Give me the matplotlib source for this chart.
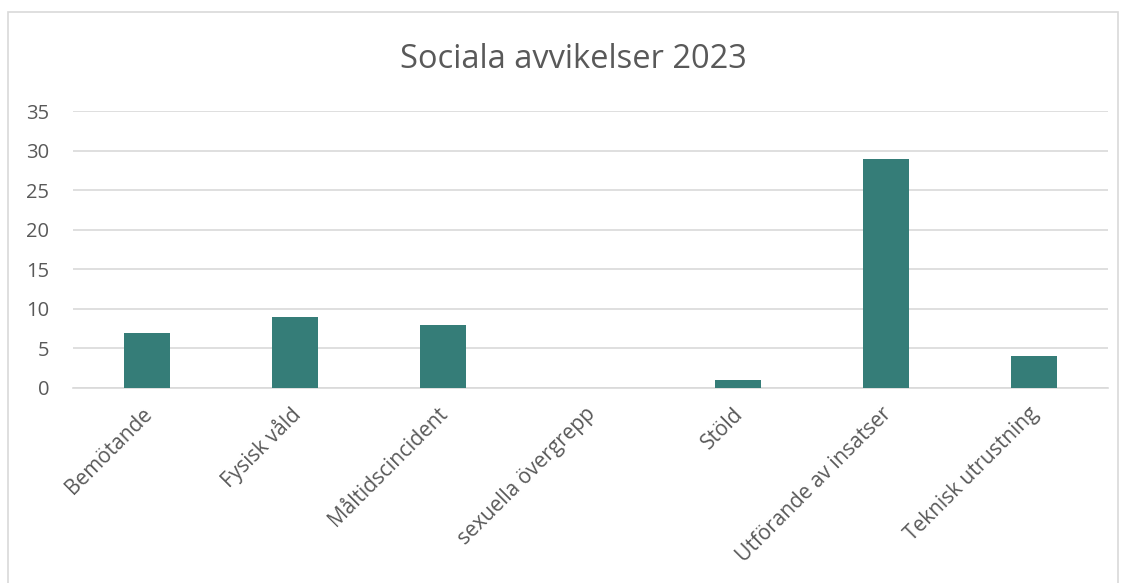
import matplotlib
matplotlib.use("Agg")
import matplotlib.pyplot as plt
import matplotlib.transforms as mtransforms
from matplotlib.patches import Rectangle

categories = ["Bemötande", "Fysisk våld", "Måltidscincident", "sexuella övergrepp",
              "Stöld", "Utförande av insatser", "Teknisk utrustning"]
values = [7, 9, 8, 0, 1, 29, 4]
yticks = [0, 5, 10, 15, 20, 25, 30, 35]

TEXT = "#595959"
GRID = "#D9D9D9"
BAR = "#357D78"

plt.rcParams["font.family"] = ["Open Sans", "DejaVu Sans"]

fig = plt.figure(figsize=(11.22, 5.83), dpi=100)
ax = fig.add_axes([0.065, 0.3345, 0.9225, 0.475])

x = list(range(len(categories)))
ax.bar(x, values, width=0.31, color=BAR, zorder=3)

ax.set_xlim(-0.5, len(categories) - 0.5)
ax.set_ylim(0, 35)
ax.set_yticks(yticks)
ax.set_yticklabels([str(t) for t in yticks], fontsize=14.5, color=TEXT)
ax.set_xticks(x)
ax.set_xticklabels(categories, rotation=45, ha="right", rotation_mode="anchor",
                   fontsize=15, color=TEXT)
ax.tick_params(axis="both", length=0)
ax.tick_params(axis="y", pad=17)
ax.tick_params(axis="x", pad=11)
# nudge the rotated labels a bit to the left, like Excel does
shift = mtransforms.ScaledTranslation(-4 / 72, 0, fig.dpi_scale_trans)
for lab in ax.get_xticklabels():
    lab.set_transform(lab.get_transform() + shift)
ax.grid(axis="y", color=GRID, linewidth=1.2, zorder=0)
for s in ["top", "right", "left"]:
    ax.spines[s].set_visible(False)
ax.spines["bottom"].set_color(GRID)
ax.spines["bottom"].set_linewidth(1.2)

fig.text(0.511, 0.898, "Sociala avvikelser 2023", ha="center", va="center",
         fontsize=23.5, color=TEXT)

# chart border
fig.patches.append(Rectangle((8 / 1122, -0.05), 1110 / 1122, 1 - 12 / 583 + 0.05,
                             transform=fig.transFigure, fill=False,
                             edgecolor=GRID, linewidth=1.2))

fig.savefig("out.png", dpi=100)
